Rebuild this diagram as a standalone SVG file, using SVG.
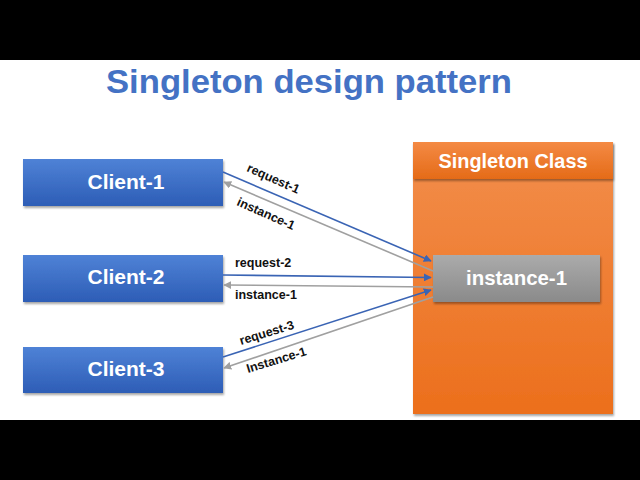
<svg xmlns="http://www.w3.org/2000/svg" width="640" height="480" viewBox="0 0 640 480">
  <defs>
    <linearGradient id="gBlue" x1="0" y1="0" x2="0" y2="1">
      <stop offset="0" stop-color="#4f82d6"/>
      <stop offset="1" stop-color="#2d5db6"/>
    </linearGradient>
    <linearGradient id="gOrange" x1="0" y1="0" x2="0" y2="1">
      <stop offset="0" stop-color="#f28e4c"/>
      <stop offset="1" stop-color="#ec6f1c"/>
    </linearGradient>
    <linearGradient id="gHead" x1="0" y1="0" x2="0" y2="1">
      <stop offset="0" stop-color="#f48a44"/>
      <stop offset="1" stop-color="#e56b18"/>
    </linearGradient>
    <linearGradient id="gGray" x1="0" y1="0" x2="0" y2="1">
      <stop offset="0" stop-color="#ababab"/>
      <stop offset="1" stop-color="#8a8a8a"/>
    </linearGradient>
    <filter id="sh" x="-10%" y="-10%" width="125%" height="140%">
      <feDropShadow dx="1" dy="2" stdDeviation="1.2" flood-color="#000" flood-opacity="0.35"/>
    </filter>
    <marker id="aBlue" viewBox="0 0 10 10" refX="9" refY="5" markerWidth="8" markerHeight="8" markerUnits="userSpaceOnUse" orient="auto">
      <path d="M0,0 L10,5 L0,10 z" fill="#3a64b4"/>
    </marker>
    <marker id="aGray" viewBox="0 0 10 10" refX="9" refY="5" markerWidth="8" markerHeight="8" markerUnits="userSpaceOnUse" orient="auto">
      <path d="M0,0 L10,5 L0,10 z" fill="#a0a0a0"/>
    </marker>
    <style>
      .box { font-family: "Liberation Sans", Arial, sans-serif; font-weight: bold; fill: #ffffff; font-size: 21px; text-anchor: middle; }
      .lbl { font-family: "Liberation Sans", Arial, sans-serif; font-weight: bold; fill: #111111; font-size: 12.5px; }
      .req { stroke: #3a64b4; stroke-width: 1.6; fill: none; marker-end: url(#aBlue); }
      .ins { stroke: #a0a0a0; stroke-width: 1.6; fill: none; marker-end: url(#aGray); }
    </style>
  </defs>

  <rect x="0" y="0" width="640" height="480" fill="#ffffff"/>
  <rect x="0" y="0" width="640" height="60" fill="#000000"/>
  <rect x="0" y="420" width="640" height="60" fill="#000000"/>

  <text id="title" x="309" y="93" font-family="'Liberation Sans', Arial, sans-serif" font-weight="bold" font-size="33" fill="#4472c4" text-anchor="middle" textLength="406" lengthAdjust="spacingAndGlyphs">Singleton design pattern</text>

  <g id="singleton-class">
    <rect x="413" y="142" width="200" height="272" fill="url(#gOrange)" filter="url(#sh)"/>
    <rect x="413" y="142" width="200" height="37" fill="url(#gHead)" filter="url(#sh)"/>
    <text class="box" x="513" y="168" textLength="149" lengthAdjust="spacingAndGlyphs">Singleton Class</text>
  </g>

  <g id="instance">
    <rect x="433" y="255" width="167" height="47" fill="url(#gGray)" filter="url(#sh)"/>
    <text class="box" x="516.5" y="285" textLength="101" lengthAdjust="spacingAndGlyphs">instance-1</text>
  </g>

  <g id="client-1">
    <rect x="23" y="159" width="200" height="47" fill="url(#gBlue)" filter="url(#sh)"/>
    <text class="box" x="126" y="189">Client-1</text>
  </g>
  <g id="client-2">
    <rect x="23" y="255" width="200" height="47" fill="url(#gBlue)" filter="url(#sh)"/>
    <text class="box" x="126" y="284">Client-2</text>
  </g>
  <g id="client-3">
    <rect x="23" y="347" width="200" height="46" fill="url(#gBlue)" filter="url(#sh)"/>
    <text class="box" x="126" y="376">Client-3</text>
  </g>

  <g id="connectors">
    <line class="req" x1="223" y1="172" x2="431" y2="261"/>
    <line class="ins" x1="433" y1="271" x2="224" y2="182"/>
    <line class="req" x1="223" y1="275" x2="431" y2="277.5"/>
    <line class="ins" x1="433" y1="287" x2="224" y2="285"/>
    <line class="req" x1="223" y1="357" x2="431" y2="290"/>
    <line class="ins" x1="433" y1="297" x2="224" y2="368"/>

    <text class="lbl" transform="translate(246,171) rotate(24)">request-1</text>
    <text class="lbl" transform="translate(236,205) rotate(24)">instance-1</text>
    <text class="lbl" x="235" y="267">request-2</text>
    <text class="lbl" x="235" y="299">instance-1</text>
    <text class="lbl" transform="translate(241,345) rotate(-17)">request-3</text>
    <text class="lbl" transform="translate(248,373) rotate(-17)">Instance-1</text>
  </g>
</svg>
